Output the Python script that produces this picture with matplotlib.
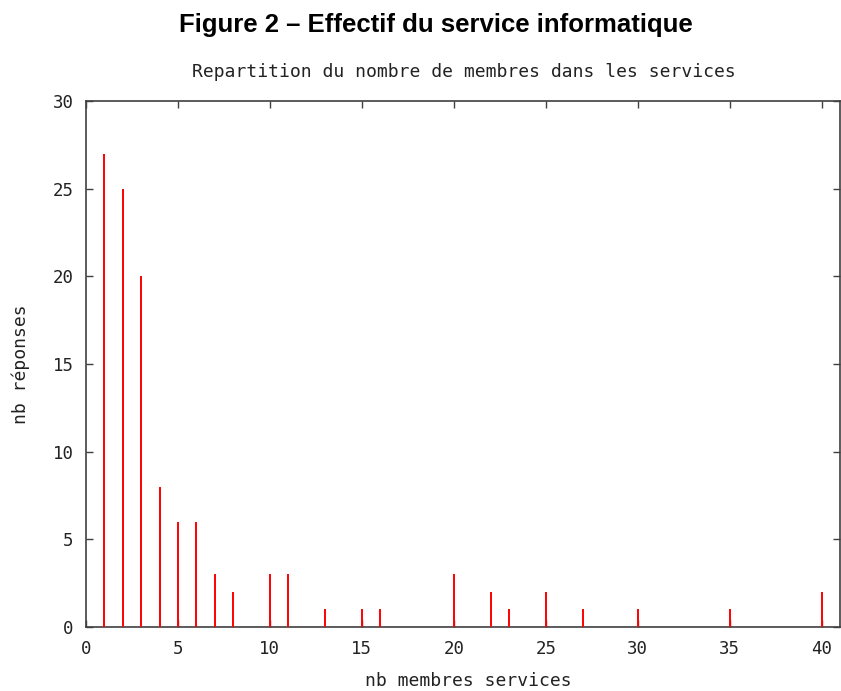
"""Figure 2: répartition du nombre de membres dans les services (impulses)."""

import matplotlib
matplotlib.use("Agg")
from matplotlib import pyplot as plt

members = [1, 2, 3, 4, 5, 6, 7, 8, 10, 11, 13, 15, 16, 20, 22, 23, 25, 27, 30, 35, 40]
answers = [27, 25, 20, 8, 6, 6, 3, 2, 3, 3, 1, 1, 1, 3, 2, 1, 2, 1, 1, 1, 2]
xticks = [0, 5, 10, 15, 20, 25, 30, 35, 40]
yticks = [0, 5, 10, 15, 20, 25, 30]

MONO = "DejaVu Sans Mono"
INK = "#404040"
TEXT = "#222222"

fig = plt.figure(figsize=(8.41, 6.91), dpi=100)
fig.patch.set_facecolor("white")
ax = fig.add_axes([86 / 841, 1 - 627 / 691, (840 - 86) / 841, (627 - 101) / 691])

ax.vlines(members, 0, answers, color="#ff0000", linewidth=1.4, zorder=3)

ax.set_xlim(0, 41)
ax.set_ylim(0, 30)
ax.set_xticks(xticks)
ax.set_yticks(yticks)
ax.tick_params(direction="in", length=5, width=1, color=INK,
               top=True, right=True, labelsize=12.5, pad=9)
for lab in ax.get_xticklabels() + ax.get_yticklabels():
    lab.set_family(MONO)
    lab.set_color(TEXT)
for sp in ax.spines.values():
    sp.set_color(INK)
    sp.set_linewidth(1.2)

ax.set_xlabel("nb membres services", family=MONO, fontsize=13, color=TEXT, va="center")
ax.xaxis.set_label_coords((468 - 86) / 754, (627 - 681) / 526)
ax.set_ylabel("nb réponses", family=MONO, fontsize=13, color=TEXT, va="center")
ax.yaxis.set_label_coords((21 - 86) / 754, 0.5)

fig.text(436 / 841, 1 - 25 / 691, "Figure 2 – Effectif du service informatique",
         family="Liberation Sans", weight="bold", fontsize=18.5, ha="center", va="center")
fig.text(464 / 841, 1 - 72 / 691, "Repartition du nombre de membres dans les services",
         family=MONO, fontsize=13, ha="center", va="center", color=TEXT)

fig.savefig("out.png", dpi=100, facecolor="white")
